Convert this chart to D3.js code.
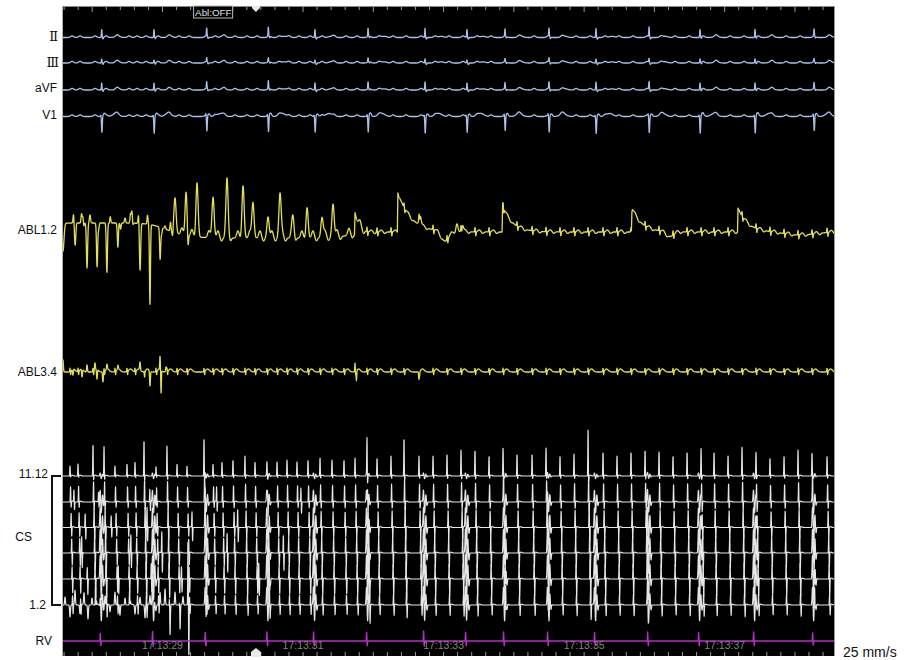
<!DOCTYPE html>
<html><head><meta charset="utf-8">
<script src="https://cdn.jsdelivr.net/npm/d3@7"></script>
<style>html,body{margin:0;padding:0;background:#fff;} svg{display:block;}</style>
</head><body>
<svg id="c" width="909" height="660"></svg>
<script>
// ---------------- DATA (times in s from window start, amplitudes in mV) ----------------
const channelLabels = ["Ⅱ","Ⅲ","aVF","V1","ABL1.2","ABL3.4","11.12","CS","1.2","RV"];
const clockLabels = ["17:13:29","17:13:31","17:13:33","17:13:35","17:13:37"];
const clockTimes  = [1.43, 3.43, 5.43, 7.43, 9.43];
const ablStatus = "Abl:OFF";
const ablStatusTime = 1.88;
const markerTime = 2.76;
const speedLabel = "25 mm/s";

// ventricular beats (QRS)
const beats  = [0.565,1.309,2.059,2.936,3.600,4.355,5.166,5.763,6.304,6.930,7.599,8.354,9.079,9.862,10.702];
const ampII  = [0.8,0.8,0.8,0.9,0.8,0.8,0.9,0.8,0.7,0.8,0.9,1.0,0.8,0.8,0.7];
const ampIII = [0.4,0.3,0.4,0.4,0.3,0.4,0.4,0.3,0.3,0.4,0.4,0.4,0.4,0.4,0.3];
const ampAVF = [0.7,0.7,0.7,0.8,0.7,0.7,0.8,0.7,0.6,0.7,0.8,0.8,0.7,0.7,0.6];
const ampV1  = [1.6,1.7,1.6,1.7,1.6,1.7,1.7,1.6,1.6,1.7,1.7,1.7,1.7,1.7,1.6];
const rvAmp  = [0.8,1.0,0.9,0.9,0.9,0.9,1.0,0.9,0.9,0.9,0.9,0.9,0.9,0.9,0.8];

// atrial activations (CS)
const atrial = [0.114,0.228,0.441,0.598,0.754,0.925,1.039,1.167,1.338,1.494,1.637,1.779,2.021,2.149,2.277,2.433,2.604,2.747,2.917,3.060,3.202,3.344,3.501,3.672,3.842,4.013,4.170,4.340,4.483,4.682,4.867,5.080,5.280,5.479,5.678,5.877,6.077,6.276,6.475,6.689,6.888,7.087,7.286,7.486,7.699,7.898,8.097,8.297,8.496,8.695,8.895,9.094,9.279,9.478,9.677,9.876,10.075,10.275,10.474,10.673,10.887];
const csGain = [0.5,0.6,1.6,1.5,0.5,0.6,0.7,1.8,0.5,1.5, 0.6,0.5,1.9,0.6,0.7,0.8,1.0,0.7,0.6,0.7, 0.8,0.7,0.8,0.9,0.8,0.8,0.9,1.9,0.9,1.0, 1.9,1.0,1.0,1.1,1.3,1.3,1.0,1.3,1.1,1.1, 1.4,1.0,1.1,2.3,1.2,1.0,1.2,1.3,1.2,1.0, 1.2,1.3,1.2,1.0,1.5,1.1,0.9,1.0,1.3,1.1, 1.0];
const csUp   = [2.0,1.8,1.7,1.7,1.5,1.1];   // 11.12 ... 1.2
const csDown = [0.3,0.7,1.1,1.5,1.7,1.1];
const csFarV = [0.3,1.2,2.0,2.4,2.4,1.8];
const csDelay= [0,0.008,0.016,0.024,0.030,0.036];
// extra irregular CS activations during the disorganised start [channel, t, up, down]
const csExtra = [[1,0.17,1.2,0.8],[1,0.52,1.0,0.6],[1,1.25,1.3,0.9],[1,2.20,1.5,1.0],[1,3.40,1.4,1.2],
 [2,0.33,1.4,1.2],[2,0.70,1.2,1.0],[2,1.21,2.0,1.5],[2,2.50,1.8,1.5],[2,1.85,1.6,1.4],
 [3,0.28,1.6,1.6],[3,0.62,1.4,1.8],[3,0.98,1.8,1.6],[3,1.42,2.2,2.0],[3,2.35,2.0,2.0],[3,3.15,1.8,1.8],
 [4,0.36,1.2,1.6],[4,0.80,1.4,1.6],[4,1.27,1.6,2.0],[4,1.70,1.2,1.4],[4,2.80,1.6,1.8]];
// CS 1.2 fractionated segment [t, mV]
const cs12Noise = [[0.043,0.8],[0.114,-1.2],[0.185,1.4],[0.256,-0.9],[0.313,1.2],[0.370,-1.4],[0.427,0.7],[0.484,1.3],[0.541,-1.2],[0.612,0.9],[0.683,-0.7],[0.754,1.3],[0.825,-1.1],[0.897,0.7],[0.968,1.1],[1.039,-0.9],[1.110,0.7],[1.181,-1.3],[1.252,0.9],[1.323,-0.9],[1.395,1.2],[1.466,1.6],[1.537,-1.8],[1.608,1.3],[1.679,-1.6],[1.722,0.8],[1.793,6.5],[1.805,-5.2]];

// ABL1.2 deflections [t, mV, width(, exponent)]
const abl12Waves = [[0.5,0.9,1.0,6],[2.9,-0.6,1.3,6],
 [0.014,-2.8,0.02],[0.185,-1.9,0.012],[0.299,0.8,0.012],[0.356,-4.5,0.012],[0.398,0.8,0.012],[0.498,-4.9,0.012],[0.640,-5.4,0.012],[0.683,1.0,0.012],[0.797,-2.9,0.012],[0.897,0.5,0.012],[0.996,1.4,0.012],[1.110,-4.4,0.012],[1.252,-7.5,0.010],[1.395,-3.7,0.012],[1.466,0.3,0.012],
 [1.608,3.5,0.022],[1.765,4.6,0.02],[1.793,-1.4,0.010],[1.921,5.5,0.022],[2.149,4.3,0.022],[2.348,5.3,0.022],[2.576,5.3,0.022],[2.718,3.8,0.022],[2.932,2.1,0.022],[3.102,4.3,0.022],[3.287,1.8,0.022],[3.487,3.1,0.022],[3.700,2.0,0.022],[3.857,3.3,0.022],
 [5.095,1.0,0.02],[5.45,-1.0,0.08],[5.62,0.8,0.02],[5.70,0.6,0.02],[8.65,-0.5,0.08],[10.5,-0.3,0.3]];
const abl12Decays = [[4.17,2.2,0.06],[4.78,4.0,0.18],[6.27,2.6,0.14],[8.11,2.4,0.14],[9.62,2.4,0.14]];
// ABL3.4 deflections [t, mV, width]
const abl34Waves = [[0.014,1.2,0.008],[0.156,-0.6,0.008],[0.285,-0.8,0.008],[0.356,0.7,0.008],[0.469,0.7,0.008],[0.498,-1.0,0.008],[0.583,-1.0,0.008],[0.640,0.5,0.008],[0.797,0.4,0.008],[1.110,0.8,0.008],[1.170,-0.4,0.008],[1.252,-1.5,0.008],[1.395,1.3,0.006],[1.410,-2.3,0.006],[1.480,0.5,0.008],[4.17,0.5,0.006],[4.19,-1.0,0.006],[5.08,-1.1,0.006]];

// ---------------- LAYOUT ----------------
const svg = d3.select("#c");
const P = {l:62, r:835, t:6, b:656};
const x = d3.scaleLinear().domain([0,11]).range([P.l,P.r]);
const mvPx = 10;
const ts = d3.range(0, 11.0001, 0.002);

function build(waves, decays){
  decays = decays || [];
  return ts.map(t=>{
    let v=0;
    for(const c of waves){const d=(t-c[0])/c[2]; if(d>-4&&d<4) v+=c[1]*Math.exp(-Math.pow(Math.abs(d), c[3]||2));}
    for(const c of decays){ if(t>=c[0]-0.008){ v += c[1]*(t<c[0] ? (t-c[0]+0.008)/0.008 : Math.exp(-(t-c[0])/c[2])); } }
    return [t,v];
  });
}

svg.append("rect").attr("x",P.l).attr("y",P.t).attr("width",P.r-P.l).attr("height",P.b-P.t).attr("fill","#000");
svg.append("defs").append("clipPath").attr("id","clip").append("rect")
  .attr("x",P.l).attr("y",P.t).attr("width",P.r-P.l).attr("height",P.b-P.t);
const g = svg.append("g").attr("clip-path","url(#clip)");

function draw(data, base, color, sw){
  const y = d3.scaleLinear().domain([0,1]).range([base, base-mvPx]);
  g.append("path").datum(data).attr("fill","none").attr("stroke",color)
   .attr("stroke-width",sw||1.3).attr("stroke-linejoin","round")
   .attr("d", d3.line().x(d=>x(d[0])).y(d=>y(d[1])));
}

// ECG
const ecgColor = "#a9c2ea";
function ecg(amps, kind){
  const w=[];
  beats.forEach((b,i)=>{
    if(kind==="V1"){
      w.push([b-0.012,0.15,0.006],[b+0.003,-amps[i],0.008],[b+0.035,0.25,0.02],[b+0.2,0.3,0.06]);
    } else {
      w.push([b,amps[i],0.006],[b+0.02,-0.15,0.008],[b+0.23,0.12,0.05]);
    }
  });
  atrial.forEach(a=>w.push([a+0.03, 0.16, 0.03]));
  return build(w);
}
const ecgBase=[37.5,63,90,116.5];
draw(ecg(ampII),ecgBase[0],ecgColor);
draw(ecg(ampIII),ecgBase[1],ecgColor);
draw(ecg(ampAVF),ecgBase[2],ecgColor);
draw(ecg(ampV1,"V1"),ecgBase[3],ecgColor);

// ABL
const ablColor = "#e2de5c";
const w12 = abl12Waves.slice();
atrial.forEach(a=>{
  if(a>4.3){ w12.push([a,0.45,0.006],[a+0.012,-0.4,0.006],[a+0.06,0.2,0.025],[a+0.11,-0.15,0.02]); }
  else if(a>1.5){ w12.push([a+0.07,0.7,0.025],[a+0.12,-0.3,0.02]); }
  else { w12.push([a+0.05,0.9,0.01],[a+0.08,-0.6,0.01]); }
});
draw(build(w12, abl12Decays), 232, ablColor);
const w34 = abl34Waves.slice();
atrial.forEach(a=>{ w34.push([a+0.05,0.3,0.035],[a,0.35,0.005],[a+0.009,-0.35,0.005]); });
draw(build(w34), 372, ablColor);

// CS
const csColor = "#e6e6e6";
const csBase=[476,502,527.5,553,579,605];
csBase.forEach((base,c)=>{
  const w=[];
  atrial.forEach((a,i)=>{
    const gn = c===0 ? csGain[i] : 0.7+0.3*csGain[i];
    const t0=a+csDelay[c];
    w.push([t0,csUp[c]*gn,0.0045],[t0+0.008,-csDown[c]*gn,0.0045],[t0+0.03,0.08,0.02]);
  });
  beats.forEach(b=>{
    const v=csFarV[c];
    w.push([b-0.022,v,0.008],[b-0.006,-v*0.9,0.008],[b+0.012,v*0.6,0.008],[b+0.028,-v*0.3,0.008]);
  });
  csExtra.filter(e=>e[0]===c).forEach(e=>w.push([e[1],e[2],0.0045],[e[1]+0.008,-e[3],0.0045]));
  if(c===5) cs12Noise.forEach(n=>w.push([n[0],n[1],Math.abs(n[1])>3?0.005:0.008]));
  draw(build(w), base, csColor, 1.2);
});

// RV
const rvW=[];
beats.forEach((b,i)=>rvW.push([b-0.02,rvAmp[i],0.004],[b-0.011,-0.55*rvAmp[i],0.004]));
draw(build(rvW), 641, "#b22fc4", 1.4);

// rulers
const tickTimes = d3.range(0.03, 11, 0.2);
svg.append("g").selectAll("line").data(tickTimes).join("line")
  .attr("x1",d=>x(d)).attr("x2",d=>x(d)).attr("y1",P.t).attr("y2",(d,i)=> (i%5===2)?P.t+6:P.t+4)
  .attr("stroke","#9a9a9a").attr("stroke-width",1);
svg.append("g").selectAll("line").data(tickTimes).join("line")
  .attr("x1",d=>x(d)).attr("x2",d=>x(d)).attr("y1",P.b).attr("y2",P.b-4)
  .attr("stroke","#9a9a9a").attr("stroke-width",1);
// frame
svg.append("line").attr("x1",P.l).attr("x2",P.r).attr("y1",P.t+0.5).attr("y2",P.t+0.5).attr("stroke","#8a8a8a");
svg.append("line").attr("x1",P.l+0.5).attr("x2",P.l+0.5).attr("y1",P.t).attr("y2",P.b).attr("stroke","#b0b0b0");
svg.append("line").attr("x1",P.r-0.5).attr("x2",P.r-0.5).attr("y1",P.t).attr("y2",P.b).attr("stroke","#9a9a9a");

// clock labels
svg.append("g").selectAll("text").data(clockTimes).join("text")
  .attr("x",d=>x(d)).attr("y",649).attr("text-anchor","middle")
  .attr("font-family","Liberation Sans, Arial, sans-serif").attr("font-size",10.5)
  .attr("fill","#858585").text((d,i)=>clockLabels[i]);

// Abl status box
const bx = x(ablStatusTime);
svg.append("rect").attr("x",bx-0.5).attr("y",P.t).attr("width",39).attr("height",12)
  .attr("fill","#000").attr("stroke","#b8b8b8").attr("stroke-width",1);
svg.append("text").attr("x",bx+1).attr("y",P.t+9.5).attr("font-family","Liberation Sans, Arial, sans-serif")
  .attr("font-size",9.8).attr("fill","#e0e0e0").text(ablStatus);

// markers
const mx = x(markerTime);
svg.append("path").attr("d",`M${mx-4},${P.t}L${mx+4},${P.t}L${mx+4},${P.t+2}L${mx},${P.t+6}L${mx-4},${P.t+2}Z`).attr("fill","#e8e8e8");
svg.append("path").attr("d",`M${mx-5},${P.b+1}L${mx+5},${P.b+1}L${mx+5},${P.b-4}L${mx},${P.b-8}L${mx-5},${P.b-4}Z`).attr("fill","#e8e8e8");

// channel labels
const font="Liberation Sans, Arial, sans-serif";
const serif="DejaVu Serif, Liberation Serif, serif";
const labPos = [
  {x:58,y:36,f:serif,s:13},{x:59,y:62,f:serif,s:13},{x:57,y:88},{x:57,y:115},
  {x:57,y:230},{x:57,y:372},{x:48,y:474},{x:32,y:537},{x:46,y:605},{x:52,y:641}];
svg.append("g").selectAll("text").data(channelLabels).join("text")
  .attr("x",(d,i)=>labPos[i].x).attr("y",(d,i)=>labPos[i].y)
  .attr("text-anchor","end").attr("dominant-baseline","central")
  .attr("font-family",(d,i)=>labPos[i].f||font).attr("font-size",(d,i)=>labPos[i].s||12).attr("fill","#111")
  .text(d=>d);
// CS bracket
svg.append("path").attr("d",`M${P.l-1},${csBase[0]}H52V${csBase[5]}H${P.l-1}`)
  .attr("fill","none").attr("stroke","#111").attr("stroke-width",2);

svg.append("text").attr("x",843).attr("y",657).attr("font-family",font).attr("font-size",14)
  .attr("fill","#111").text(speedLabel);
</script>
</body></html>
